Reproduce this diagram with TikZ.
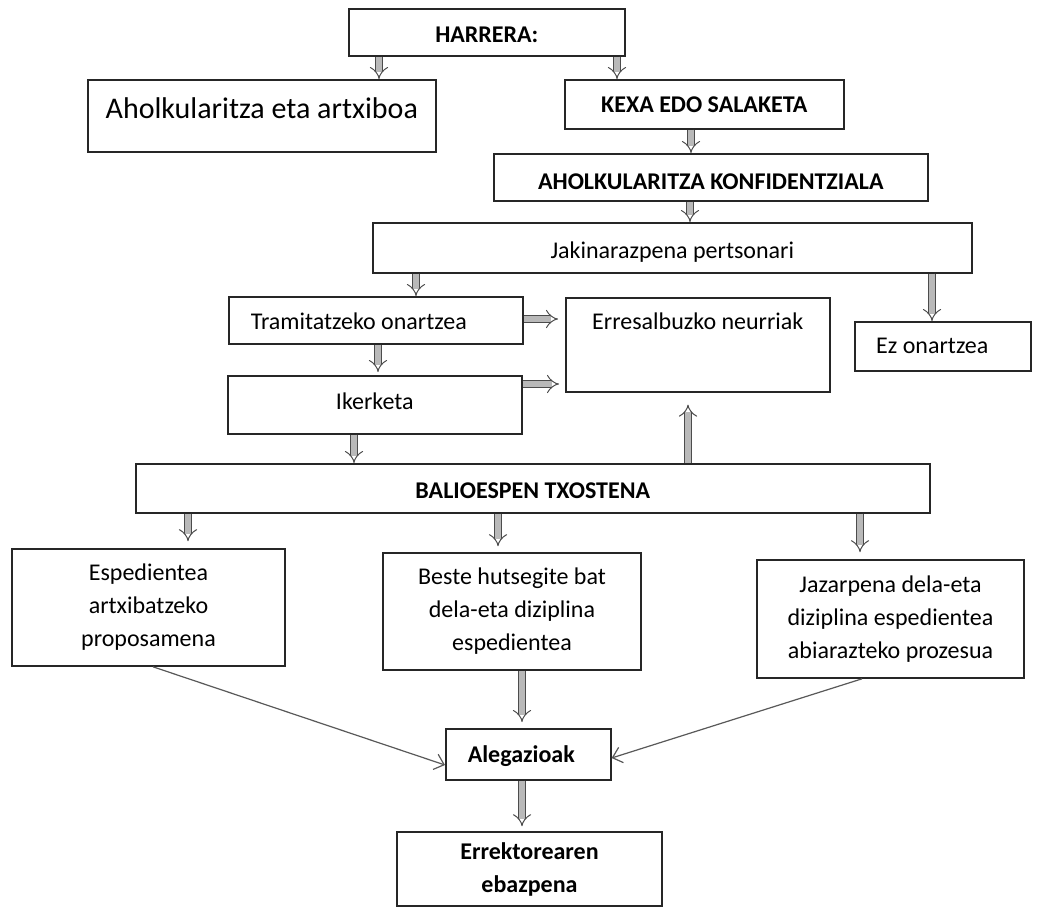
\documentclass[tikz,border=0pt]{standalone}
\usepackage{fontspec}
\setmainfont{Carlito}
\usetikzlibrary{arrows.meta}
\newcommand\fs{\fontsize{24}{33}\selectfont}
\begin{document}
\begin{tikzpicture}[x=1pt,y=-1pt,
  box/.style={draw=black!85, line width=1.6pt, inner sep=0pt, anchor=north west, align=center, font=\fs},
  mbox/.style={draw=black!85, line width=1.6pt, inner sep=0pt, anchor=center, align=center, font=\fs},
  blk/.style={draw=black!70, line width=1pt, double=gray!55, double distance=5.5pt, -{Implies}},
  thin/.style={draw=black!65, line width=1.2pt, -{Straight Barb[length=9pt,width=16pt,line width=1.2pt]}}
]
\useasboundingbox (0,0) rectangle (1059,911);
\fill[white] (0,0) rectangle (1059,911);

\node[box, minimum width=276pt, text height=34pt, text depth=13pt, font=\fs\bfseries] (harrera) at (348,8) {HARRERA:};
\node[box, minimum width=348pt, text height=39pt, text depth=33pt, font=\fontsize{30}{36}\selectfont] (ahol) at (87,79) {Aholkularitza eta artxiboa};
\node[box, minimum width=279pt, text height=33pt, text depth=16pt, font=\fs\bfseries] (kexa) at (564,79) {KEXA EDO SALAKETA};
\node[box, minimum width=434pt, text height=36pt, text depth=11pt, font=\fs\bfseries] (konf) at (493,153) {AHOLKULARITZA KONFIDENTZIALA};
\node[box, minimum width=599pt, text height=36pt, text depth=14pt] (jak) at (372,222) {Jakinarazpena pertsonari};
\node[box, minimum width=294pt, text height=33pt, text depth=14pt] (tram) at (228,296) {Tramitatzeko onartzea\hspace{34pt}};
\node[box, minimum width=264pt, text height=32pt, text depth=62pt] (erres) at (565,297) {Erresalbuzko neurriak};
\node[box, minimum width=176pt, text height=32pt, text depth=17pt] (ez) at (854,321) {Ez onartzea\hspace{21pt}};
\node[box, minimum width=294pt, text height=34pt, text depth=24pt] (iker) at (227,375) {Ikerketa};
\node[box, minimum width=794pt, text height=35pt, text depth=14pt, font=\fs\bfseries] (balio) at (135,463) {BALIOESPEN TXOSTENA};
\node[mbox, minimum width=273pt, minimum height=117pt] (esp) at (148.5,607.5) {Espedientea\\artxibatzeko\\proposamena};
\node[mbox, minimum width=258pt, minimum height=117pt] (beste) at (512,611.5) {Beste hutsegite bat\\dela-eta diziplina\\espedientea};
\node[mbox, minimum width=267pt, minimum height=118pt] (jaz) at (890.5,619) {Jazarpena dela-eta\\diziplina espedientea\\abiarazteko prozesua};
\node[box, minimum width=165pt, text height=34pt, text depth=17pt, font=\fs\bfseries] (aleg) at (445,728) {Alegazioak\hspace{14pt}};
\node[mbox, minimum width=265pt, minimum height=74pt, font=\fs\bfseries] (errek) at (529.5,869) {Errektorearen\\ebazpena};

\draw[blk] (379,0 |- harrera.south) -- (379,0 |- ahol.north);
\draw[blk] (617,0 |- harrera.south) -- (617,0 |- kexa.north);
\draw[blk] (691,0 |- kexa.south) -- (691,0 |- konf.north);
\draw[blk] (690,0 |- konf.south) -- (690,0 |- jak.north);
\draw[blk] (416,0 |- jak.south) -- (416,0 |- tram.north);
\draw[blk] (932,0 |- jak.south) -- (932,0 |- ez.north);
\draw[blk, shorten >=7pt] (tram.east |- 0,319) -- (erres.west |- 0,319);
\draw[blk, shorten >=3pt] (378,0 |- tram.south) -- (378,0 |- iker.north);
\draw[blk, shorten >=6pt] (iker.east |- 0,384) -- (erres.west |- 0,384);
\draw[blk] (354,0 |- iker.south) -- (354,0 |- balio.north);
\draw[blk, shorten >=12pt] (688,0 |- balio.north) -- (688,0 |- erres.south);
\draw[blk, shorten >=7pt] (188,0 |- balio.south) -- (188,0 |- esp.north);
\draw[blk, shorten >=6pt] (498,0 |- balio.south) -- (498,0 |- beste.north);
\draw[blk, shorten >=7pt] (860,0 |- balio.south) -- (860,0 |- jaz.north);
\draw[blk, shorten >=6pt] (522,0 |- beste.south) -- (522,0 |- aleg.north);
\draw[blk, shorten >=5pt] (522,0 |- aleg.south) -- (522,0 |- errek.north);
\draw[thin] (153,0 |- esp.south) -- (aleg.west |- 0,765);
\draw[thin] (862,0 |- jaz.south) -- (aleg.east |- 0,758);
\end{tikzpicture}
\end{document}
